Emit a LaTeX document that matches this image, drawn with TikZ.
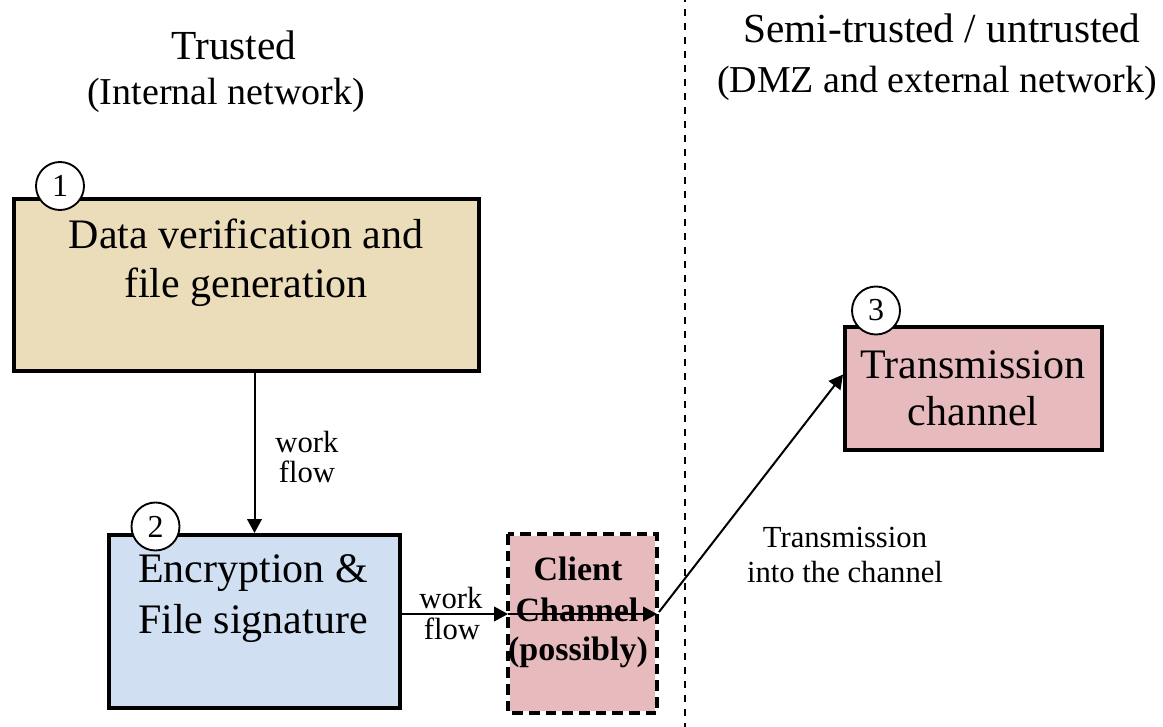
\documentclass[tikz,border=0pt]{standalone}
\usepackage{fontspec}
\setmainfont{Liberation Serif}
\usetikzlibrary{arrows.meta,calc}
\definecolor{tanfill}{HTML}{EBDDB9}
\definecolor{bluefill}{HTML}{D0E0F2}
\definecolor{pinkfill}{HTML}{E7BABD}
\begin{document}
\begin{tikzpicture}[x=0.75pt,y=-0.75pt,
  box/.style={draw=black,line width=3pt,inner sep=0pt,rectangle},
  numc/.style={circle,draw=black,fill=white,line width=1.4pt,minimum size=36pt,inner sep=0pt,font=\fontsize{24}{26}\selectfont},
  txt/.style={anchor=base,inner sep=0pt},
  boxfont/.style={font=\fontsize{31.5}{36}\selectfont},
  headfont/.style={font=\fontsize{31}{34}\selectfont},
  subfont/.style={font=\fontsize{28.5}{31}\selectfont},
  smallfont/.style={font=\fontsize{23}{25}\selectfont},
  clientfont/.style={font=\fontsize{25.5}{28}\selectfont\bfseries},
  flow/.style={line width=1.5pt,-{Triangle[length=10.5pt,width=11pt]}}
]
\useasboundingbox (0,0) rectangle (1163,727);
\fill[white] (0,0) rectangle (1163,727);

% divider
\coordinate (dtop) at (685,0);
\coordinate (dbot) at (685,727);
\draw[line width=1.3pt,dash pattern=on 5.25pt off 5.25pt,dash phase=-7pt] (dtop) -- (dbot);

% headers
\node[txt,headfont] (h1) at (234,60) {Trusted};
\node[txt,subfont] (h1b) at (226,105) {(Internal network)};
\node[txt,headfont] (h2) at (942,43) {Semi-trusted / untrusted};
\node[txt,subfont] (h2b) at (937,93) {(DMZ and external network)};

% boxes
\node[box,fill=tanfill,minimum width=465*0.75pt,minimum height=172*0.75pt] (b1) at (246.5,285) {};
\node[box,fill=bluefill,minimum width=291*0.75pt,minimum height=173*0.75pt] (b2) at (254.5,621.5) {};
\node[box,fill=pinkfill,draw=none,minimum width=145*0.75pt,minimum height=175*0.75pt] (cl) at (582.5,623.5) {};
\draw[line width=3pt,dash pattern=on 8pt off 4.5pt] (cl.north west) rectangle (cl.south east);
\node[box,fill=pinkfill,minimum width=257*0.75pt,minimum height=123*0.75pt] (b3) at (973.5,388.5) {};

% box texts
\node[txt,boxfont] (t1a) at (246,248) {Data verification and};
\node[txt,boxfont] (t1b) at (246,297) {file generation};
\node[txt,boxfont] (t2a) at (253,582) {Encryption \&};
\node[txt,boxfont] (t2b) at (253,633) {File signature};
\node[txt,boxfont] (t3a) at (973,378) {Transmission};
\node[txt,boxfont] (t3b) at (973,425) {channel};
\node[txt,clientfont] (tca) at (578,580) {Client};
\node[txt,clientfont] (tcb) at (577,621) {Channel};
\node[txt,clientfont] (tcc) at (578,660) {(possibly)};

% number circles
\node[numc] (n1) at (60,186) {1};
\node[numc] (n2) at (155.5,526.5) {2};
\node[numc] (n3) at (876,310.5) {3};

% connectors
\coordinate (row) at (0,614);
\draw[flow] (b2.north |- b1.south) -- (b2.north);
\draw[flow] (b2.east |- row) -- (cl.west |- row);
\draw[flow] (cl.west |- row) -- (cl.east |- row);
\draw[flow] ($(cl.east |- row)+(2,-2)$) -- ($(b3.north west)!0.39!(b3.south west)$);

% connector labels
\node[txt,smallfont] (w1a) at (307,452) {work};
\node[txt,smallfont] (w1b) at (307,482) {flow};
\node[txt,smallfont] (w2a) at (451,608) {work};
\node[txt,smallfont] (w2b) at (452,639) {flow};
\node[txt,smallfont] (tr1) at (845,547) {Transmission};
\node[txt,smallfont] (tr2) at (845,582) {into the channel};
\end{tikzpicture}
\end{document}
